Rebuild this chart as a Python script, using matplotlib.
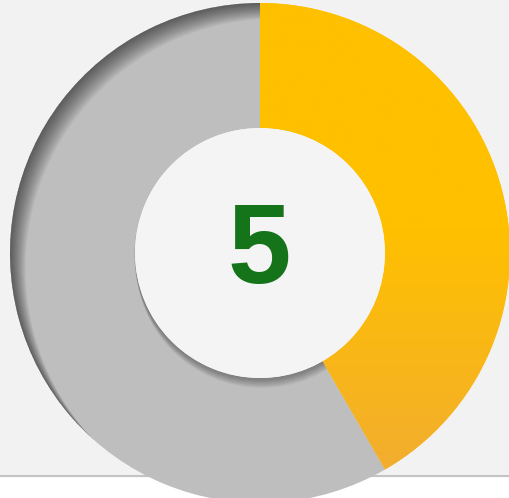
"""Donut gauge showing a single value out of a total."""

import numpy as np
import matplotlib
import matplotlib.pyplot as plt
from matplotlib.patches import Circle, Rectangle, Wedge

matplotlib.use("Agg")

# Data
labels = ["value", "rest"]
values = [5, 7]
center_label = "5"

ORANGE_TOP = "#ffc000"
ORANGE_BOTTOM = "#efa93a"
GREY = "#bebebe"
GREEN = "#15731a"
PANEL = "#f2f2f2"

W, H = 510, 498
CX, CY = 260, 245   # y measured from the bottom
R_OUT, R_IN = 250, 125

fig = plt.figure(figsize=(W / 100, H / 100), dpi=100)
ax = fig.add_axes([0, 0, 1, 1])

# background panel with a line at its lower edge, white strip underneath
ax.add_patch(Rectangle((0, 0), W, H, color="white", zorder=0))
ax.add_patch(Rectangle((0, 22), W, H - 22, color=PANEL, zorder=0))
ax.plot([0, W], [22, 22], color="#c4c4c4", lw=1.5, zorder=0.5)

wedges, _ = ax.pie(
    values,
    colors=[ORANGE_TOP, GREY],
    startangle=90,
    counterclock=False,
    radius=R_OUT,
    center=(CX, CY),
    wedgeprops=dict(width=R_OUT - R_IN, linewidth=0),
    frame=True,
)
ax.set_xlim(0, W)
ax.set_ylim(0, H)
ax.set_aspect("equal")
ax.axis("off")

# vertical gradient on the orange wedge
grad = np.linspace(0, 1, 256).reshape(-1, 1)
cmap = matplotlib.colors.LinearSegmentedColormap.from_list(
    "og", [ORANGE_BOTTOM, ORANGE_TOP])
img = ax.imshow(np.clip(grad * 1.8, 0, 1) ** 0.8, cmap=cmap, aspect="auto",
                extent=(CX - R_OUT, CX + R_OUT, CY - R_OUT, CY + R_OUT),
                origin="lower", zorder=1.5)
img.set_clip_path(wedges[0])

# inner shadow along the upper-left outer edge of the grey wedge
for k in range(1, 17):
    d = 1.3 * k
    ring = Wedge((CX + 0.75 * d, CY - 0.75 * d), R_OUT + 60, 0, 360,
                 width=60, color="black", alpha=0.04, lw=0, zorder=2)
    ax.add_patch(ring)
    ring.set_clip_path(wedges[1])

# drop shadow of the inner disc
for k in range(1, 11):
    d = 0.9 * k
    sh = Circle((CX + 0.2 * d, CY - d), R_IN + 1, color="black",
                alpha=0.035, lw=0, zorder=2.5)
    ax.add_patch(sh)
    sh.set_clip_path(wedges[1])

ax.add_patch(Circle((CX, CY), R_IN, color="#f4f4f4", lw=0, zorder=3))

ax.text(CX - 1, CY - 1, center_label, ha="center", va="center",
        fontsize=82, fontweight="bold", color=GREEN,
        family=["Liberation Sans", "DejaVu Sans"], zorder=4)

fig.savefig("out.png", dpi=100)
